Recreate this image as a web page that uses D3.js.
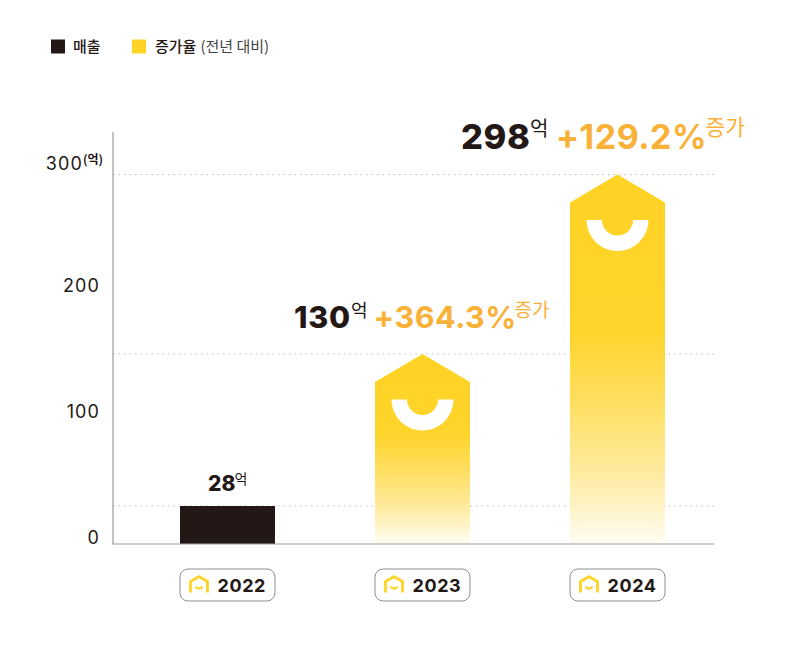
<!DOCTYPE html>
<html><head><meta charset="utf-8">
<script src="https://cdn.jsdelivr.net/npm/d3@7"></script>
<style>html,body{margin:0;background:#fff}svg{display:block}text{font-family:Inter,"Noto Sans CJK KR",sans-serif}.kr{font-family:"Noto Sans CJK KR",sans-serif}</style>
</head><body><svg id="c" width="800" height="654"></svg>
<script>
const years = ["2022","2023","2024"];
const revenue = [28,130,298];
const growth = [null,"+364.3%","+129.2%"];
const yTicks = [0,100,200,300];
const legendLabels = ["매출","증가율"];
const legendNote = "(전년 대비)";
const dark="#231815", yellow="#FFD324", orange="#F9B138", axisC="#9c9c9c";

const svg=d3.select("#c");
const x=d3.scalePoint().domain(years).range([227.5,617.5]);
// the reference's bars are not to one linear scale: piecewise through the drawn heights
const y=d3.scaleLinear().domain([0,28,130,298]).range([544,506,354,174.5]);
// axis labels sit on their own scale
const yLab=d3.scaleLinear().domain(yTicks).range([544,417.5,291.5,169.5]);
const barW=95, roof=28;

const defs=svg.append("defs");
years.slice(1).forEach((yr,i)=>{
  const g=defs.append("linearGradient").attr("id","g"+yr).attr("gradientUnits","objectBoundingBox").attr("x1",0).attr("x2",0).attr("y1",0).attr("y2",1);
  [[0,yellow],[.42,"#FFD42B"],[.62,"#FFDF62"],[.8,"#FEEA9C"],[1,"#FFFDF3"]].forEach(s=>g.append("stop").attr("offset",s[0]).attr("stop-color",s[1]));
});

// legend
svg.append("rect").attr("x",51).attr("y",39.5).attr("width",14).attr("height",14).attr("fill",dark);
svg.append("text").attr("class","kr").attr("x",73).attr("y",52).attr("font-size",15).attr("font-weight",500).attr("fill",dark).text(legendLabels[0]);
svg.append("rect").attr("x",132).attr("y",39.5).attr("width",14).attr("height",14).attr("fill",yellow);
const lt=svg.append("text").attr("class","kr").attr("x",155).attr("y",52).attr("fill",dark).attr("font-size",15).attr("font-weight",500);
lt.append("tspan").text(legendLabels[1]);
lt.append("tspan").attr("dx",4).attr("font-size",15).attr("font-weight",400).attr("fill","#444").text(legendNote);

// dotted gridlines
svg.append("g").selectAll("line").data(revenue).join("line")
  .attr("x1",113).attr("x2",714).attr("y1",d=>y(d)).attr("y2",d=>y(d))
  .attr("stroke","#bdbdbd").attr("stroke-width",1).attr("stroke-dasharray","1.5 4");

// y labels
const tl=svg.append("g").selectAll("text").data(yTicks).join("text")
  .attr("text-anchor","end").attr("y",d=>yLab(d)).attr("font-size",18).attr("font-weight",400).attr("fill",dark)
  .attr("letter-spacing",1.1);
tl.filter(d=>d!==300).attr("x",100).text(d=>d);
const topTick=tl.filter(d=>d===300).attr("x",103);
topTick.append("tspan").text(d=>d);
topTick.append("tspan").attr("class","kr").attr("dy",-6).attr("dx",0).attr("font-size",12).attr("font-weight",700).attr("letter-spacing",0).text("(억)");

// bars
const barsG=svg.append("g");
years.forEach((yr,i)=>{
  const cx=x(yr), t=y(revenue[i]), b=y(0), l=cx-barW/2, r=cx+barW/2;
  if(i===0){
    barsG.append("rect").attr("x",l).attr("y",t).attr("width",barW).attr("height",b-t).attr("fill",dark);
  } else {
    const p=d3.path();
    p.moveTo(cx,t);p.lineTo(r,t+roof);p.lineTo(r,b);p.lineTo(l,b);p.lineTo(l,t+roof);p.closePath();
    barsG.append("path").attr("d",p).attr("fill",`url(#g${yr})`);
    const arc=d3.arc().innerRadius(15.5).outerRadius(31).startAngle(Math.PI/2).endAngle(Math.PI*1.5);
    barsG.append("path").attr("d",arc()).attr("transform",`translate(${cx},${t+45.5})`).attr("fill","#fff");
  }
});

// axes
svg.append("line").attr("x1",113).attr("x2",113).attr("y1",132).attr("y2",544.5).attr("stroke",axisC).attr("stroke-width",1.2);
svg.append("line").attr("x1",112.5).attr("x2",714).attr("y1",544).attr("y2",544).attr("stroke",axisC).attr("stroke-width",1.2);

// value annotations
const layouts=[
 {num:21,sup:14,x0:208,base:490.5,sx:234.5,sy:483.5,ls:0},
 {num:30.5,gnum:30.5,sup:18,x0:294,base:328,sx:351,sy:316.5,gx:373.5,gsup:19,kx:514.5,ky:317,ls:.7},
 {num:34.5,gnum:34,sup:20,x0:461,base:148.5,sx:530,sy:135.5,gx:556,gsup:21.5,kx:705.5,ky:135,ls:.6}
];
years.forEach((yr,i)=>{
  const L=layouts[i];
  svg.append("text").attr("x",L.x0).attr("y",L.base).attr("font-size",L.num).attr("font-weight",800).attr("fill",dark).attr("letter-spacing",L.ls).text(revenue[i]);
  svg.append("text").attr("class","kr").attr("x",L.sx).attr("y",L.sy).attr("font-size",L.sup).attr("fill",dark).text("억");
  if(growth[i]){
    svg.append("text").attr("x",L.gx).attr("y",L.base).attr("font-size",L.gnum).attr("font-weight",700).attr("fill",orange).attr("letter-spacing",.5).text(growth[i]);
    svg.append("text").attr("class","kr").attr("x",L.kx).attr("y",L.ky).attr("font-size",L.gsup).attr("fill",orange).text("증가");
  }
});

// year pills
const pill=svg.append("g").selectAll("g").data(years).join("g").attr("transform",d=>`translate(${x(d)},585)`);
pill.append("rect").attr("x",-47.5).attr("y",-16).attr("width",95).attr("height",32).attr("rx",8).attr("fill","#fff").attr("stroke","#8f8f8f").attr("stroke-width",1);
pill.append("path").attr("d","M-37 7.5V-3.5L-28.5 -8.5L-20 -3.5V7.5").attr("fill","none").attr("stroke",yellow).attr("stroke-width",2.8);
pill.append("path").attr("d","M-32 1.5A4 4 0 0 0 -25 1.5").attr("fill","none").attr("stroke",yellow).attr("stroke-width",2.2);
pill.append("text").attr("x",-10).attr("y",6.5).attr("font-size",18).attr("font-weight",700).attr("fill",dark).attr("letter-spacing",.6).text(d=>d);
</script></body></html>
